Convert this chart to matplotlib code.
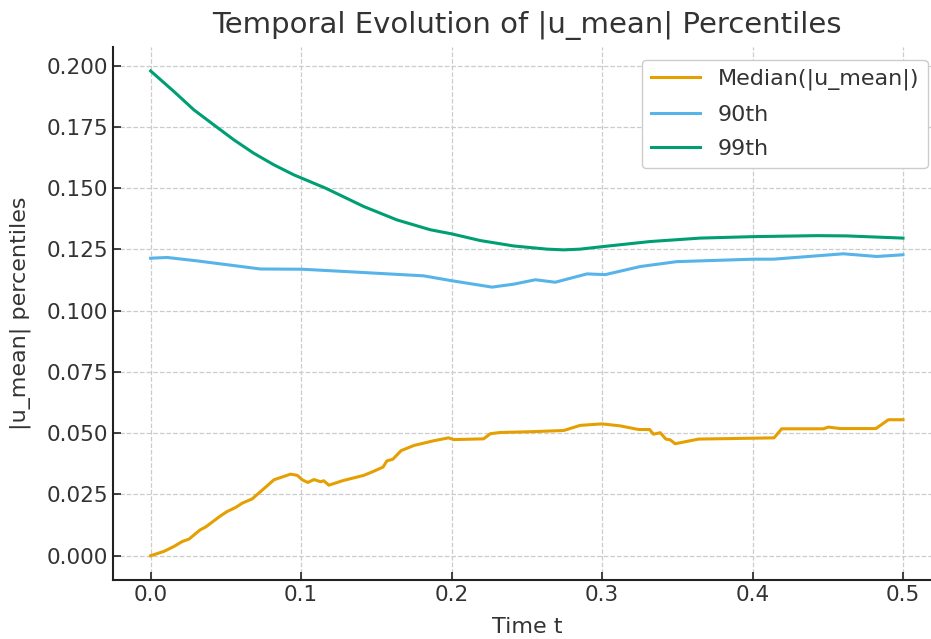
import matplotlib
matplotlib.use("Agg")
import matplotlib.pyplot as plt

# values
t_med = [0.0, 0.0089, 0.0155, 0.021, 0.0255, 0.033, 0.0365, 0.0465, 0.051, 0.0565,
         0.061, 0.0675, 0.082, 0.093, 0.0975, 0.1007, 0.1045, 0.1085, 0.113, 0.115,
         0.1185, 0.128, 0.1417, 0.148, 0.1545, 0.157, 0.161, 0.1665, 0.175, 0.188,
         0.198, 0.2015, 0.2213, 0.2258, 0.2324, 0.2523, 0.2745, 0.2855, 0.3, 0.312,
         0.3243, 0.3316, 0.3342, 0.3387, 0.3424, 0.3453, 0.3486, 0.3641, 0.4143, 0.4194,
         0.4471, 0.4504, 0.4582, 0.482, 0.4903, 0.5]
median = [0.0, 0.0018, 0.0038, 0.0058, 0.0068, 0.0106, 0.0117, 0.0163, 0.0181, 0.0197,
          0.0215, 0.0232, 0.031, 0.0333, 0.0328, 0.031, 0.0299, 0.0311, 0.0302, 0.0306,
          0.0288, 0.0307, 0.0328, 0.0344, 0.0362, 0.0387, 0.0394, 0.0429, 0.045, 0.0469,
          0.0481, 0.0474, 0.0477, 0.0498, 0.0503, 0.0506, 0.0511, 0.0532, 0.0538, 0.053,
          0.0515, 0.0515, 0.0496, 0.0502, 0.0476, 0.0473, 0.0457, 0.0476, 0.0481, 0.0518,
          0.0518, 0.0525, 0.0519, 0.0519, 0.0555, 0.0555]

t_90 = [0.0, 0.011, 0.031, 0.073, 0.1007, 0.1284, 0.1815, 0.1992, 0.2269, 0.2412,
        0.2557, 0.2689, 0.29, 0.3021, 0.3254, 0.3497, 0.4006, 0.4139, 0.4604, 0.4825, 0.5]
p90 = [0.1214, 0.1217, 0.1203, 0.117, 0.1169, 0.116, 0.1142, 0.1123, 0.1096, 0.1108,
       0.1126, 0.1116, 0.115, 0.1147, 0.118, 0.12, 0.121, 0.121, 0.1232, 0.1221, 0.1228]

t_99 = [0.0, 0.0155, 0.0288, 0.042, 0.0553, 0.0686, 0.0819, 0.0952, 0.1162, 0.1416,
        0.1638, 0.1859, 0.2003, 0.2191, 0.2412, 0.2634, 0.2745, 0.2855, 0.3, 0.332,
        0.3652, 0.4006, 0.4427, 0.4626, 0.5]
p99 = [0.1978, 0.1894, 0.1819, 0.1758, 0.1697, 0.1642, 0.1595, 0.1554, 0.15, 0.1425,
       0.137, 0.133, 0.1313, 0.1286, 0.1264, 0.1251, 0.1248, 0.1251, 0.1261, 0.1282,
       0.1296, 0.1302, 0.1306, 0.1305, 0.1296]

W, H = 931, 639
fig = plt.figure(figsize=(W / 100, H / 100), dpi=100)
ax = fig.add_axes([113 / W, 59 / H, (940.6 - 113) / W, (580 - 46.7) / H])

ax.plot(t_med, median, color="#E69F00", lw=2.2, label="Median(|u_mean|)")
ax.plot(t_90, p90, color="#56B4E9", lw=2.2, label="90th")
ax.plot(t_99, p99, color="#009E73", lw=2.2, label="99th")

ax.set_xticks([0.0, 0.1, 0.2, 0.3, 0.4, 0.5])
ax.set_yticks([0.0, 0.025, 0.05, 0.075, 0.1, 0.125, 0.15, 0.175, 0.2])
ax.set_yticklabels(["%.3f" % v for v in ax.get_yticks()])
ax.tick_params(direction="in", length=6, width=1.2, labelsize=15.5, colors="#333333")
ax.tick_params(axis="both", color="#222222")

ax.grid(True, linestyle="--", color="#cccccc", lw=0.9)
ax.spines["top"].set_visible(False)
ax.spines["right"].set_visible(False)
for s in ("left", "bottom"):
    ax.spines[s].set_linewidth(1.5)
    ax.spines[s].set_color("#222222")

ax.set_title("Temporal Evolution of |u_mean| Percentiles", fontsize=21, color="#333333", pad=10)
ax.set_xlabel("Time t", fontsize=16, color="#333333", labelpad=9)
ax.set_ylabel("|u_mean| percentiles", fontsize=16, color="#333333", labelpad=11)

leg = ax.legend(loc="upper right", fontsize=16, framealpha=1, edgecolor="#cccccc",
                bbox_to_anchor=(0.998, 0.996), labelspacing=0.65, handlelength=2.2)
for txt in leg.get_texts():
    txt.set_color("#333333")

fig.savefig("out.png", dpi=100)
